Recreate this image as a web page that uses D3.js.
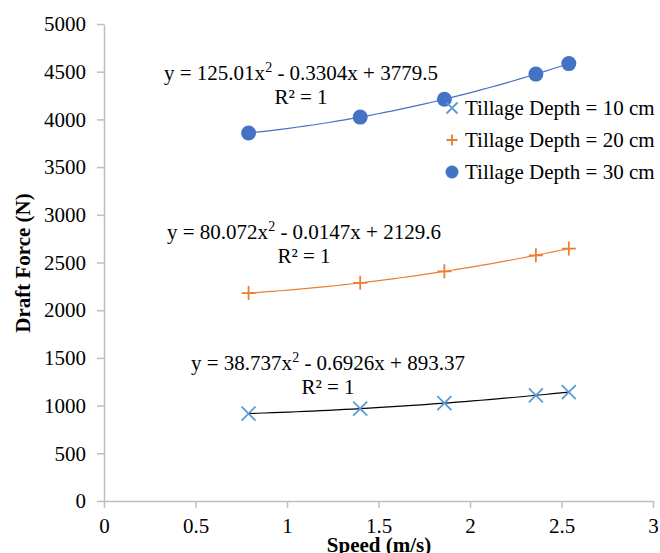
<!DOCTYPE html>
<html>
<head>
<meta charset="utf-8">
<script src="https://d3js.org/d3.v7.min.js"></script>
</head>
<body>
<script>
var W = 660, H = 553;
var fontName = "Liberation Serif";

// speed (m/s) readings, same for every depth
var speed = [0.79, 1.40, 1.86, 2.36, 2.54];
// draft force (N) per tillage depth
var depth10 = [917, 968, 1026, 1107, 1141];
var depth20 = [2180, 2287, 2407, 2575, 2646];
var depth30 = [3857, 4024, 4211, 4475, 4585];
// poly trendline coefficients [a, b, c] from the chart labels
var fit10 = [38.737, -0.6926, 893.37];
var fit20 = [80.072, -0.0147, 2129.6];
var fit30 = [125.01, -0.3304, 3779.5];
var labels = ["Tillage Depth = 10 cm", "Tillage Depth = 20 cm", "Tillage Depth = 30 cm"];
var xTicks = [0, 0.5, 1, 1.5, 2, 2.5, 3];
var yTicks = [0, 500, 1000, 1500, 2000, 2500, 3000, 3500, 4000, 4500, 5000];

var svg = d3.select("body").append("svg")
  .attr("width", W)
  .attr("height", H)
  .attr("font-family", fontName)
  .style("position", "absolute")
  .style("left", "0px")
  .style("top", "0px");

var xs = d3.scaleLinear().domain([0, 3]).range([104, 653]);
var ys = d3.scaleLinear().domain([0, 5000]).range([501, 24]);

var axisColor = "#BFBFBF";

var xAxis = svg.append("g")
  .attr("transform", "translate(0," + ys(0) + ")")
  .call(d3.axisBottom(xs).tickValues(xTicks).tickSize(7).tickSizeOuter(0).tickPadding(10)
    .tickFormat(function(d) { return String(d); }));
var yAxis = svg.append("g")
  .attr("transform", "translate(" + xs(0) + ",0)")
  .call(d3.axisLeft(ys).tickValues(yTicks).tickSize(7).tickSizeOuter(0).tickPadding(11)
    .tickFormat(function(d) { return String(d); }));

[xAxis, yAxis].forEach(function(g) {
  g.attr("font-family", fontName).attr("font-size", 21);
  g.select(".domain").attr("stroke", axisColor).attr("stroke-width", 1.5);
  g.selectAll(".tick line").attr("stroke", axisColor).attr("stroke-width", 1.5);
  g.selectAll(".tick text").attr("font-family", fontName).attr("fill", "#000");
});

// axis titles
svg.append("text")
  .attr("x", 379).attr("y", 552)
  .attr("text-anchor", "middle")
  .attr("font-family", fontName)
  .attr("font-size", 21).attr("font-weight", "bold")
  .text("Speed (m/s)");
svg.append("text")
  .attr("transform", "translate(30,263) rotate(-90)")
  .attr("text-anchor", "middle")
  .attr("font-family", fontName)
  .attr("font-size", 21).attr("font-weight", "bold")
  .text("Draft Force (N)");

var series = [
  { vals: depth10, fit: fit10, color: "#5B9BD5", lineColor: "#000", shape: "x" },
  { vals: depth20, fit: fit20, color: "#ED7D31", lineColor: "#ED7D31", shape: "plus" },
  { vals: depth30, fit: fit30, color: "#4472C4", lineColor: "#4472C4", shape: "circle" }
];

var trend = d3.line()
  .x(function(d) { return xs(d[0]); })
  .y(function(d) { return ys(d[1]); });

// trendlines
series.forEach(function(s) {
  var lo = d3.min(speed), hi = d3.max(speed);
  var pts = d3.range(0, 41).map(function(i) {
    var v = lo + (hi - lo) * i / 40;
    return [v, s.fit[0] * v * v + s.fit[1] * v + s.fit[2]];
  });
  svg.append("path")
    .attr("d", trend(pts))
    .attr("fill", "none")
    .attr("stroke", s.lineColor)
    .attr("stroke-width", 1.2);
});

function drawMarker(g, shape, color, size) {
  if (shape === "circle") {
    g.append("circle").attr("r", size).attr("fill", color);
  } else if (shape === "plus") {
    g.append("path").attr("d", "M" + (-size) + ",0H" + size + "M0," + (-size) + "V" + size)
      .attr("stroke", color).attr("stroke-width", 1.8).attr("fill", "none");
  } else {
    g.append("path").attr("d", "M" + (-size) + "," + (-size) + "L" + size + "," + size + "M" + (-size) + "," + size + "L" + size + "," + (-size))
      .attr("stroke", color).attr("stroke-width", 1.8).attr("fill", "none");
  }
}

// markers
series.forEach(function(s) {
  s.vals.forEach(function(v, i) {
    var g = svg.append("g").attr("transform", "translate(" + xs(speed[i]) + "," + ys(v) + ")");
    drawMarker(g, s.shape, s.color, s.shape === "circle" ? 7.5 : 7);
  });
});

// trendline equations
var eqs = [
  { fit: fit30, cx: 301, by: 80 },
  { fit: fit20, cx: 304, by: 239 },
  { fit: fit10, cx: 328, by: 370 }
];
eqs.forEach(function(e) {
  var t = svg.append("text")
    .attr("x", e.cx).attr("y", e.by)
    .attr("text-anchor", "middle")
    .attr("font-family", fontName)
    .attr("font-size", 21);
  t.append("tspan").text("y = " + e.fit[0] + "x");
  t.append("tspan").attr("dy", -8).attr("font-size", 14).text("2");
  t.append("tspan").attr("dy", 8).text(" - " + Math.abs(e.fit[1]) + "x + " + e.fit[2]);
  svg.append("text")
    .attr("x", e.cx).attr("y", e.by + 24)
    .attr("text-anchor", "middle")
    .attr("font-family", fontName)
    .attr("font-size", 21)
    .text("R\u00B2 = 1");
});

// legend
var legend = svg.append("g");
labels.forEach(function(lab, i) {
  var row = legend.append("g").attr("transform", "translate(452," + (108 + i * 32) + ")");
  drawMarker(row, series[i].shape, series[i].color, series[i].shape === "circle" ? 6.5 : 5.5);
  row.append("text").attr("x", 13).attr("y", 7)
    .attr("font-family", fontName)
    .attr("font-size", 21).text(lab);
});
</script>
</body>
</html>
